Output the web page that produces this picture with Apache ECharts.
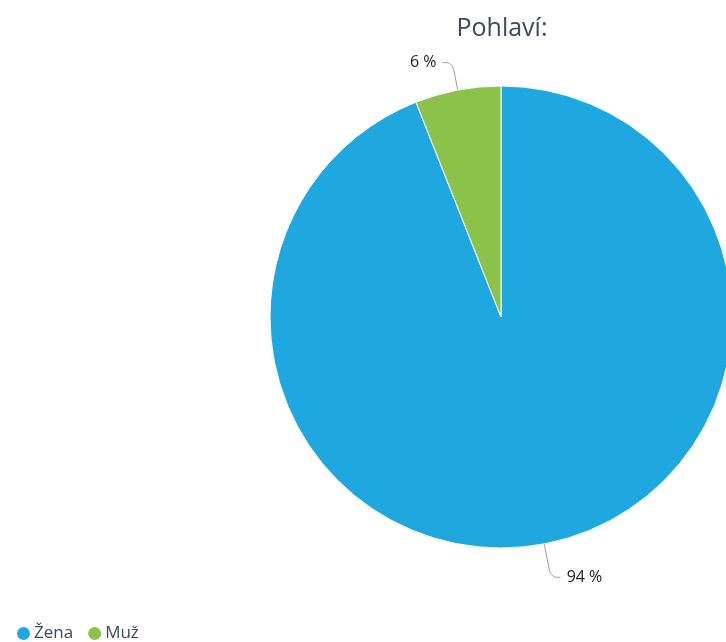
<!DOCTYPE html>
<html><head><meta charset="utf-8">
<script src="https://cdn.jsdelivr.net/npm/echarts@6/dist/echarts.min.js"></script>
<style>html,body{margin:0;padding:0;background:#fff}#c{width:726px;height:642px}</style>
</head><body><div id="c"></div>
<script>
const categories = ["Žena", "Muž"];
const values = [94, 6];
const colors = ["#1fa8e0", "#8bc34a"];
const title = "Pohlaví:";

const chart = echarts.init(document.getElementById('c'));
chart.setOption({
  animation: false,
  title: { text: title, left: 497, top: 11, textAlign: 'center',
    textStyle: { fontFamily: 'Open Sans', fontWeight: 'normal', fontSize: 25, color: '#3c4a5c' } },
  legend: { left: 10, top: 620, icon: 'circle', itemWidth: 15, itemHeight: 15, itemGap: 13,
    textStyle: { fontFamily: 'Open Sans', fontSize: 17, color: '#3c4a5c', padding: [0, 0, 0, -2] },
    data: categories },
  series: [{
    type: 'pie',
    center: [501, 317],
    radius: [0, 231],
    startAngle: 90,
    clockwise: true,
    itemStyle: { borderColor: '#fff', borderWidth: 1 },
    label: { show: true, formatter: '{c} %', fontFamily: 'Open Sans', fontSize: 16, color: '#222', distanceToLabelLine: 6 },
    labelLine: { show: true, length: 28, length2: 10, smooth: 0.4, lineStyle: { color: '#999', width: 1 } },
    data: categories.map((c, i) => ({ name: c, value: values[i], itemStyle: { color: colors[i] },
      labelLine: { length: i === 0 ? 34 : 28 } }))
  }]
});
</script></body></html>
